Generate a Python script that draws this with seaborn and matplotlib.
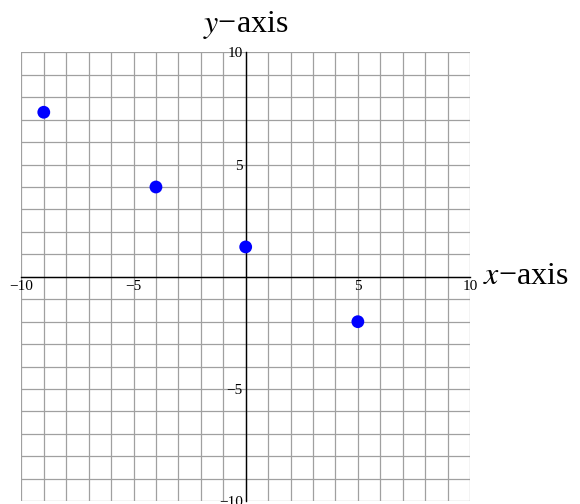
import numpy as np
import pandas as pd
import seaborn as sns
from matplotlib import pyplot as plt

# points
x_vals = [-9, -4, 0, 5]
y_vals = [7.33, 4, 1.33, -2]
major_ticks = [-10, -5, 5, 10]
minor_ticks = list(range(-10, 11))

df = pd.DataFrame({"x": x_vals, "y": y_vals})

sns.set_style("white")
plt.rcParams["font.family"] = ["Liberation Serif", "DejaVu Serif"]
plt.rcParams["mathtext.fontset"] = "stix"
plt.rcParams["text.color"] = "black"

fig = plt.figure(figsize=(5.8, 5.04), dpi=100)
ax = fig.add_axes([0.0368, 0.0054, 0.7736, 0.8908])

sns.scatterplot(data=df, x="x", y="y", color="#0000ff", s=85, edgecolor="none",
                ax=ax, zorder=5, clip_on=False)

ax.set_xlim(-10, 10)
ax.set_ylim(-10, 10)
ax.set_xticks(major_ticks)
ax.set_yticks(major_ticks)
ax.set_xticks(minor_ticks, minor=True)
ax.set_yticks(minor_ticks, minor=True)
ax.grid(True, which="both", color="#a0a0a0", linewidth=0.9)
ax.set_axisbelow(True)

# axes through the origin
ax.spines["left"].set_position(("data", 0))
ax.spines["bottom"].set_position(("data", 0))
ax.spines["top"].set_visible(False)
ax.spines["right"].set_visible(False)
for s in ["left", "bottom"]:
    ax.spines[s].set_color("black")
    ax.spines[s].set_linewidth(1.0)
    ax.spines[s].set_zorder(3)

ax.tick_params(which="major", direction="in", length=5, width=0.8,
               labelsize=11, pad=2, colors="black")
ax.tick_params(which="minor", direction="in", length=3, width=0.6)
ax.set_xlabel("")
ax.set_ylabel("")

ax.text(0, 10.5, "$y$\u2212axis", fontsize=23, ha="center", va="bottom",
        color="black")
ax.text(10.6, 0, "$x$\u2212axis", fontsize=23, ha="left", va="center",
        color="black")

fig.savefig("out.png", dpi=100)
